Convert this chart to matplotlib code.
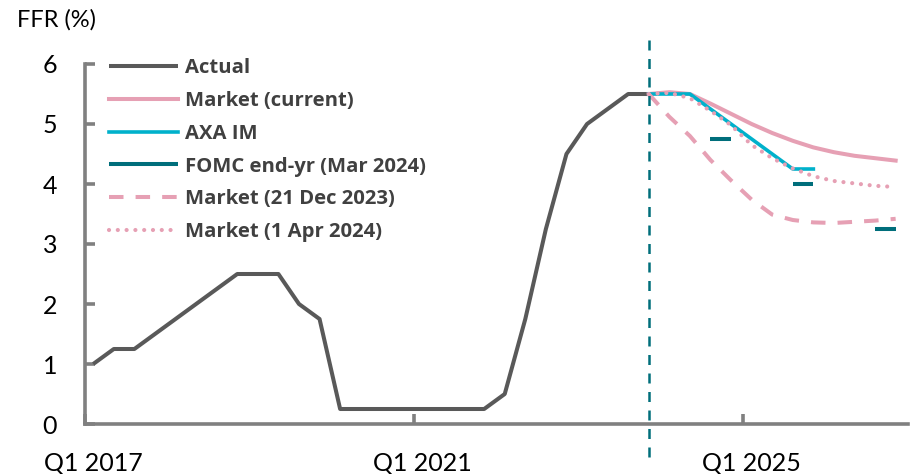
import numpy as np
import pandas as pd
import matplotlib
matplotlib.use("Agg")
import matplotlib.pyplot as plt

plt.rcParams['font.family'] = ['Lato', 'DejaVu Sans']

# quarterly axis, Q1 2017 .. Q4 2026
quarters = pd.period_range("2017Q1", "2026Q4", freq="Q")
tick_labels = ["Q1 2017", "Q1 2021", "Q1 2025"]

# actual fed funds rate (upper bound), Q1 2017 .. Q4 2023
actual = [1.0, 1.25, 1.25, 1.5, 1.75, 2.0, 2.25, 2.5, 2.5, 2.5, 2.0, 1.75,
          0.25, 0.25, 0.25, 0.25, 0.25, 0.25, 0.25, 0.25,
          0.5, 1.75, 3.25, 4.5, 5.0, 5.25, 5.5, 5.5]

# forecasts, Q4 2023 .. Q4 2026
market_current = [5.5, 5.53, 5.5, 5.34, 5.17, 5.0, 4.85, 4.72, 4.61, 4.53, 4.47, 4.43, 4.39]
axa_im = [5.5, 5.5, 5.5, 5.25, 5.0, 4.75, 4.5, 4.25, 4.25]
fomc = [np.nan, np.nan, np.nan, 4.75, 4.75, np.nan, np.nan, 4.0, 4.0, np.nan, np.nan, 3.25, 3.25]
market_dec23 = [5.5, 5.12, 4.8, 4.4, 4.06, 3.74, 3.49, 3.4, 3.36, 3.35, 3.37, 3.39, 3.42]
market_apr24 = [5.5, 5.52, 5.43, 5.22, 4.98, 4.65, 4.43, 4.26, 4.13, 4.05, 4.01, 3.97, 3.95]

x_all = np.arange(len(quarters))
x_act = x_all[:len(actual)]
start = len(actual) - 1
x_fc = x_all[start:]

grey = '#595959'
pink = '#E6A0B4'
cyan = '#00B1CB'
teal = '#006E7B'
axis_grey = '#808080'

fig = plt.figure(figsize=(9.13, 4.74), dpi=100)
ax = fig.add_axes([85 / 913, 50 / 474, 823 / 913, 360 / 474])

ax.plot(x_act, actual, color=grey, lw=2.9, label='Actual', solid_capstyle='butt')
ax.plot(x_fc, market_current, color=pink, lw=2.9, label='Market (current)')
ax.plot(x_fc[:len(axa_im)], axa_im, color=cyan, lw=2.6, label='AXA IM')
ax.plot(x_fc, fomc, color=teal, lw=2.9, label='FOMC end-yr (Mar 2024)', solid_capstyle='butt')
ax.plot(x_fc, market_dec23, color=pink, lw=2.9, ls=(0, (3.6, 3.0)),
        label='Market (21 Dec 2023)')
ax.plot(x_fc, market_apr24, color=pink, lw=3.0, ls=(0, (0.01, 2.1)),
        dash_capstyle='round', label='Market (1 Apr 2024)')

ax.axvline(x_all[start], ymin=-0.092, ymax=1.078, color=teal, lw=1.8,
           ls=(0, (4, 3.4)), clip_on=False)

ax.set_xlim(-0.4, 39.6)
ax.set_ylim(0, 6)

for s in ['top', 'right']:
    ax.spines[s].set_visible(False)
for s in ['left', 'bottom']:
    ax.spines[s].set_color(axis_grey)
    ax.spines[s].set_linewidth(2.6)

ax.set_yticks(range(0, 7))
ax.tick_params(axis='y', direction='in', length=7, width=2.6, color=axis_grey,
               labelsize=18, pad=20, labelcolor='black')

# tick marks at year boundaries, labels under Q1 points
ax.set_xticks([-0.4, 15.6, 31.6])
ax.set_xticklabels([])
ax.tick_params(axis='x', which='major', direction='in', length=7, width=2.6,
               color=axis_grey)
ax.set_xticks([0, 16, 32], minor=True)
ax.set_xticklabels(tick_labels, minor=True)
ax.tick_params(axis='x', which='minor', length=0, labelsize=18, pad=20)

fig.text(17 / 913, 1 - 20 / 474, 'FFR (%)', fontsize=17, va='center', ha='left')

leg = ax.legend(loc='upper left', bbox_to_anchor=(24 / 823, 1.016), frameon=False,
                borderpad=0, borderaxespad=0, handlelength=3.4, handletextpad=0.35,
                labelspacing=0.63,
                prop={'family': 'Open Sans', 'weight': 'bold', 'size': 14.6})
for t in leg.get_texts():
    t.set_color('#404040')

fig.savefig('out.png', dpi=100)
